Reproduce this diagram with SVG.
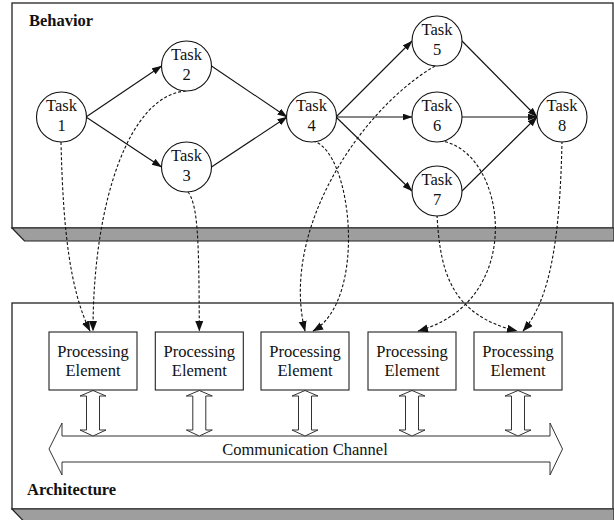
<svg xmlns="http://www.w3.org/2000/svg" width="614" height="520" viewBox="0 0 614 520">
<style>
.panel{fill:#fff;stroke:#222;stroke-width:1.3}
.base{fill:#9e9e9e;stroke:#222;stroke-width:1.2}
.task{fill:#fff;stroke:#111;stroke-width:1.1}
.pe{fill:#fff;stroke:#222;stroke-width:1.1}
text{font-family:'Liberation Serif','Times New Roman',serif}
.txt{font-size:16.5px;fill:#111;text-anchor:middle}
.lbl{font-size:16.5px;font-weight:bold;fill:#111}
.flow{fill:none;stroke:#111;stroke-width:1.1;marker-end:url(#ah)}
.map{fill:none;stroke:#111;stroke-width:1.1;stroke-dasharray:3 2;marker-end:url(#ah2)}
.dbl{fill:#fff;stroke:#333;stroke-width:1}
</style>
<defs>
<marker id="ah" markerUnits="userSpaceOnUse" markerWidth="10" markerHeight="8" refX="9.5" refY="3.5" orient="auto">
<path d="M0,0 L10,3.5 L0,7 z" fill="#111"/>
</marker>
<marker id="ah2" markerUnits="userSpaceOnUse" markerWidth="11" markerHeight="9" refX="10" refY="4" orient="auto">
<path d="M0,0 L10.5,4 L0,8 z" fill="#111"/>
</marker>
</defs>

<g id="behavior-panel">
<rect class="panel" x="12" y="3" width="601" height="225"/>
<polygon class="base" points="12,228 614,228 614,241 24.5,241"/>
<text class="lbl" x="29" y="26">Behavior</text>
</g>

<g id="architecture-panel">
<rect class="panel" x="12" y="303" width="601" height="206"/>
<polygon class="base" points="12,509 614,509 614,522 24.5,522"/>
<text class="lbl" x="27" y="495">Architecture</text>
</g>

<g id="channel">
<polygon class="dbl" points="49,449 62,423 62,436 550,436 550,423 562.5,449 550,475 550,462 62,462 62,475"/>
<text class="txt" x="305" y="455">Communication Channel</text>
</g>

<g id="links">
<polygon class="dbl" points="93,390.5 106,396 99.5,396 99.5,430 106,430 93,436 80,430 86.5,430 86.5,396 80,396"/>
<polygon class="dbl" points="199.3,390.5 212.3,396 205.8,396 205.8,430 212.3,430 199.3,436 186.3,430 192.8,430 192.8,396 186.3,396"/>
<polygon class="dbl" points="305,390.5 318,396 311.5,396 311.5,430 318,430 305,436 292,430 298.5,430 298.5,396 292,396"/>
<polygon class="dbl" points="412,390.5 425,396 418.5,396 418.5,430 425,430 412,436 399,430 405.5,430 405.5,396 399,396"/>
<polygon class="dbl" points="518,390.5 531,396 524.5,396 524.5,430 531,430 518,436 505,430 511.5,430 511.5,396 505,396"/>
</g>

<g id="pe1"><rect class="pe" x="49" y="332" width="88" height="58"/><text class="txt" x="93" y="357">Processing</text><text class="txt" x="93" y="376">Element</text></g>
<g id="pe2"><rect class="pe" x="155.3" y="332" width="88" height="58"/><text class="txt" x="199.3" y="357">Processing</text><text class="txt" x="199.3" y="376">Element</text></g>
<g id="pe3"><rect class="pe" x="261" y="332" width="88" height="58"/><text class="txt" x="305" y="357">Processing</text><text class="txt" x="305" y="376">Element</text></g>
<g id="pe4"><rect class="pe" x="368" y="332" width="88" height="58"/><text class="txt" x="412" y="357">Processing</text><text class="txt" x="412" y="376">Element</text></g>
<g id="pe5"><rect class="pe" x="474" y="332" width="88" height="58"/><text class="txt" x="518" y="357">Processing</text><text class="txt" x="518" y="376">Element</text></g>

<g id="connectors">
<path class="flow" d="M86,117 L161.5,66"/>
<path class="flow" d="M86,117 L161.5,167"/>
<path class="flow" d="M211.5,66 L287,117"/>
<path class="flow" d="M211.5,167 L287,117"/>
<path class="flow" d="M336,117 L412,41"/>
<path class="flow" d="M336,117 L412,117"/>
<path class="flow" d="M336,117 L412,191"/>
<path class="flow" d="M462,41 L537,117"/>
<path class="flow" d="M462,117 L537,117"/>
<path class="flow" d="M462,191 L537,117"/>
<path class="map" d="M61,142 C63,230 70,290 90,331"/>
<path class="map" d="M186,91 C130,95 93,200 93,331"/>
<path class="map" d="M188,192 C198,205 199,240 199.3,331"/>
<path class="map" d="M313,141 C352,150 368,300 313,331"/>
<path class="map" d="M435,66 C360,110 280,230 305,331"/>
<path class="map" d="M440,141 C505,148 530,300 418,331"/>
<path class="map" d="M437,215 C440,270 450,315 517,331"/>
<path class="map" d="M562,141 C560,240 550,300 523,331"/>
</g>

<g id="task1"><circle class="task" cx="61.5" cy="117" r="25"/><text class="txt" x="61.5" y="111">Task</text><text class="txt" x="61.5" y="131">1</text></g>
<g id="task2"><circle class="task" cx="186.5" cy="66" r="25"/><text class="txt" x="186.5" y="60">Task</text><text class="txt" x="186.5" y="80">2</text></g>
<g id="task3"><circle class="task" cx="186.5" cy="167" r="25"/><text class="txt" x="186.5" y="161">Task</text><text class="txt" x="186.5" y="181">3</text></g>
<g id="task4"><circle class="task" cx="311.5" cy="117" r="25"/><text class="txt" x="311.5" y="111">Task</text><text class="txt" x="311.5" y="131">4</text></g>
<g id="task5"><circle class="task" cx="437" cy="41" r="25"/><text class="txt" x="437" y="35">Task</text><text class="txt" x="437" y="55">5</text></g>
<g id="task6"><circle class="task" cx="437" cy="117" r="25"/><text class="txt" x="437" y="111">Task</text><text class="txt" x="437" y="131">6</text></g>
<g id="task7"><circle class="task" cx="437" cy="191" r="25"/><text class="txt" x="437" y="185">Task</text><text class="txt" x="437" y="205">7</text></g>
<g id="task8"><circle class="task" cx="562" cy="117" r="25"/><text class="txt" x="562" y="111">Task</text><text class="txt" x="562" y="131">8</text></g>
</svg>
